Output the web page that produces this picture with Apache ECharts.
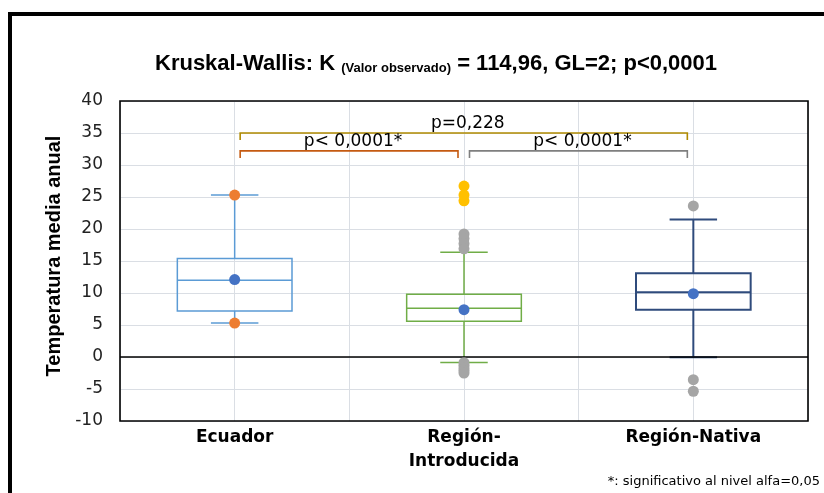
<!DOCTYPE html>
<html><head><meta charset="utf-8">
<script src="https://cdn.jsdelivr.net/npm/echarts@6/dist/echarts.min.js"></script>
<style>html,body{margin:0;padding:0;background:#fff}#c{width:824px;height:493px}</style>
</head><body><div id="c"></div>
<script>
// ---- data ----
const categories = ['Ecuador', 'Región-\nIntroducida', 'Región-Nativa'];
const whiskerLow = [5.3, -0.85, -0.05];
const q1 = [7.2, 5.6, 7.4];
const median = [12.0, 7.6, 10.1];
const q3 = [15.4, 9.8, 13.1];
const whiskerHigh = [25.3, 16.35, 21.5];
const means = [12.1, 7.4, 9.9];
const minMaxPoints = [[0, 25.3], [0, 5.3]];
const extremePoints = [[1, 26.7], [1, 25.3], [1, 24.4]];
const outlierPoints = [[1, 19.2], [1, 18.5], [1, 17.7], [1, 16.9],
  [1, -0.9], [1, -1.3], [1, -1.7], [1, -2.1], [1, -2.5],
  [2, 23.6], [2, -3.55], [2, -5.35]];
const yMin = -10, yMax = 40, yStep = 5;
const bracketFrom = [0, 0, 1];
const bracketTo = [2, 1, 2];
const bracketLevel = [35.0, 32.2, 32.2];
const bracketLabels = ['p=0,228', 'p< 0,0001*', 'p< 0,0001*'];

// ---- styles ----
const boxColors = ['#5B9BD5', '#70AD47', '#2F4B7C'];
const boxWidths = [1.5, 1.5, 2];
const bracketColors = ['#B08A00', '#C55A11', '#7F7F7F'];

const chart = echarts.init(document.getElementById('c'), null, {renderer: 'canvas'});
const G = {left: 120, right: 16, top: 101, bottom: 72};

const boxData = categories.map((c, i) => [i, whiskerLow[i], q1[i], median[i], q3[i], whiskerHigh[i]]);
const bracketData = bracketFrom.map((f, k) => [f, bracketTo[k], bracketLevel[k]]);

chart.setOption({
  animation: false,
  backgroundColor: '#fff',
  title: {
    left: 150, top: 34,
    text: '{a|Kruskal-Wallis: K }{b|(Valor observado)}{a| = 114,96, GL=2; p<0,0001}',
    textStyle: {
      rich: {
        a: {fontFamily: 'Liberation Sans', fontWeight: 'bold', fontSize: 22, lineHeight: 36, color: '#000', verticalAlign: 'bottom'},
        b: {fontFamily: 'Liberation Sans', fontWeight: 'bold', fontSize: 13, lineHeight: 13, color: '#000', verticalAlign: 'bottom'}
      }
    }
  },
  grid: {left: G.left, right: G.right, top: G.top, bottom: G.bottom, containLabel: false},
  xAxis: [{
    type: 'category', data: categories, boundaryGap: true,
    axisLine: {show: false, onZero: false},
    axisTick: {show: false},
    splitLine: {show: false},
    axisLabel: {fontFamily: 'DejaVu Sans', fontWeight: 'bold', fontSize: 17, color: '#000', lineHeight: 24, margin: 5, interval: 0}
  }, {
    type: 'value', min: 0, max: 6, interval: 1, position: 'bottom',
    axisLine: {show: false}, axisTick: {show: false}, axisLabel: {show: false},
    splitLine: {show: true, lineStyle: {color: '#DADEE4', width: 1}}
  }],
  yAxis: {
    type: 'value', min: yMin, max: yMax, interval: yStep,
    name: 'Temperatura media anual', nameLocation: 'middle', nameGap: 52, nameRotate: 90,
    nameTextStyle: {fontFamily: 'Liberation Sans', fontWeight: 'bold', fontSize: 20, color: '#000', padding: [0, 0, 0, 10]},
    axisLine: {show: false}, axisTick: {show: false},
    axisLabel: {fontFamily: 'DejaVu Sans', fontSize: 17, color: '#222', margin: 17},
    splitLine: {show: true, lineStyle: {color: '#DADEE4', width: 1}}
  },
  graphic: [
    {type: 'rect', z: 100, silent: true,
      shape: {x: G.left, y: G.top, width: 824 - G.left - G.right, height: 493 - G.top - G.bottom},
      style: {fill: 'none', stroke: '#000', lineWidth: 1.6}},
    {type: 'rect', z: 100, silent: true,
      shape: {x: 10, y: 14, width: 1000, height: 1000},
      style: {fill: 'none', stroke: '#000', lineWidth: 4}},
    {type: 'text', z: 100, silent: true, x: 820, y: 482,
      style: {text: '*: significativo al nivel alfa=0,05', font: '13px "DejaVu Sans"', fill: '#000', align: 'right', verticalAlign: 'middle'}}
  ],
  series: [
    {
      type: 'custom', name: 'brackets', z: 1, xAxisIndex: 0,
      data: bracketData, encode: {x: 0, y: 2},
      renderItem: function (params, api) {
        const k = params.dataIndex;
        const lvl = api.value(2);
        const p1 = api.coord([api.value(0), lvl]);
        const p2 = api.coord([api.value(1), lvl]);
        const x1 = p1[0] + 5.5, x2 = p2[0] - 6, y = p1[1];
        return {
          type: 'group',
          children: [
            {type: 'polyline', shape: {points: [[x1, y + 7], [x1, y], [x2, y], [x2, y + 7]]},
              style: {stroke: bracketColors[k], lineWidth: 1.6, fill: null}},
            {type: 'text', x: (x1 + x2) / 2 + 4, y: y - 1,
              style: {text: bracketLabels[k], align: 'center', verticalAlign: 'bottom',
                font: '17px "DejaVu Sans"', fill: '#000'}}
          ]
        };
      },
      markLine: {
        silent: true, symbol: 'none', animation: false,
        label: {show: false},
        lineStyle: {color: '#000', width: 1.6, type: 'solid'},
        data: [{yAxis: 0}]
      }
    },
    {
      type: 'custom', name: 'boxes', z: 3, xAxisIndex: 0,
      data: boxData, encode: {x: 0, y: [1, 2, 3, 4, 5]},
      renderItem: function (params, api) {
        const i = api.value(0);
        const bw = api.size([1, 0])[0];
        const boxW = bw * 0.5, capW = bw * 0.207;
        const cx = api.coord([i, 0])[0];
        const Y = [1, 2, 3, 4, 5].map(d => api.coord([i, api.value(d)])[1]);
        const st = {stroke: boxColors[i], lineWidth: boxWidths[i], fill: null};
        return {
          type: 'group',
          children: [
            {type: 'line', shape: {x1: cx, y1: Y[0], x2: cx, y2: Y[1]}, style: st},
            {type: 'line', shape: {x1: cx, y1: Y[3], x2: cx, y2: Y[4]}, style: st},
            {type: 'line', shape: {x1: cx - capW / 2, y1: Y[0], x2: cx + capW / 2, y2: Y[0]}, style: st},
            {type: 'line', shape: {x1: cx - capW / 2, y1: Y[4], x2: cx + capW / 2, y2: Y[4]}, style: st},
            {type: 'rect', shape: {x: cx - boxW / 2, y: Y[3], width: boxW, height: Y[1] - Y[3]}, style: st},
            {type: 'line', shape: {x1: cx - boxW / 2, y1: Y[2], x2: cx + boxW / 2, y2: Y[2]}, style: st}
          ]
        };
      }
    },
    {type: 'scatter', name: 'minmax', z: 5, data: minMaxPoints, symbolSize: 11,
      itemStyle: {color: '#ED7D31', opacity: 1}},
    {type: 'scatter', name: 'extremes', z: 5, data: extremePoints, symbolSize: 11,
      itemStyle: {color: '#FFC000', opacity: 1}},
    {type: 'scatter', name: 'outliers', z: 5, data: outlierPoints, symbolSize: 11,
      itemStyle: {color: '#A5A5A5', opacity: 1}},
    {type: 'scatter', name: 'means', z: 6, data: means.map((m, i) => [i, m]), symbolSize: 11,
      itemStyle: {color: '#4472C4', opacity: 1}}
  ]
});
</script></body></html>
